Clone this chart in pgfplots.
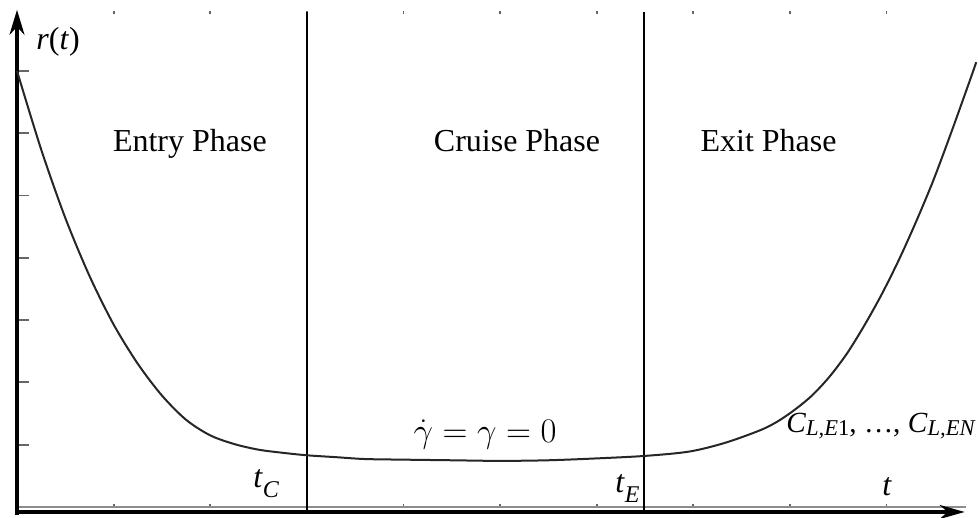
\documentclass[border=0pt]{standalone}
\usepackage{fontspec}
\setmainfont{Liberation Serif}
\usepackage{pgfplots}
\pgfplotsset{compat=1.18}
\usetikzlibrary{arrows.meta}

% Radius profile r(t) over the three flight phases
\pgfplotstableread{
t     r
0.00  7.00
0.25  5.74
0.50  4.64
0.75  3.71
1.00  2.93
1.25  2.30
1.50  1.79
1.75  1.40
2.00  1.15
2.25  1.01
2.50  0.92
2.75  0.87
3.00  0.83
3.30  0.80
3.60  0.77
4.00  0.76
4.50  0.75
5.00  0.74
5.50  0.75
6.00  0.78
6.50  0.82
6.96  0.89
7.33  1.03
7.69  1.23
7.87  1.37
8.05  1.56
8.23  1.79
8.41  2.09
8.59  2.46
8.77  2.91
8.95  3.41
9.13  3.97
9.31  4.59
9.49  5.26
9.68  6.05
9.86  6.83
9.93  7.14
}\rtable

\begin{document}
\begin{tikzpicture}
\useasboundingbox (-8.5pt,-5.5pt) rectangle (481pt,253.5pt);
\begin{axis}[
  anchor=origin, at={(0pt,0pt)},
  x=48.3pt, y=31.15pt,
  xmin=0, xmax=9.93, ymin=0, ymax=7.96,
  clip=false,
  axis line style={draw=none},
  xtick={1,...,9}, ytick=\empty,
  extra y ticks={1,...,7},
  extra y tick style={major tick length=6pt, ytick pos=left},
  xticklabels={}, yticklabels={}, extra y tick labels={},
  tick align=inside,
  major tick length=1.6pt,
  tick style={black!60, line width=0.9pt},
]
% axes
\draw[black!45, line width=1pt] (axis cs:0,0) -- (axis cs:9.82,0);
\draw[black, line width=1.6pt, -{Stealth[length=12.5pt,width=7pt,inset=4pt]}]
  (axis cs:0,-0.08) -- (axis cs:9.81,-0.08);
\draw[black, line width=1.6pt, -{Stealth[length=12.5pt,width=7.5pt,inset=4pt]}]
  (axis cs:0,-0.13) -- (axis cs:0,7.98);
% phase boundaries t_C and t_E
\draw[black, line width=0.8pt] (axis cs:3,-0.11) -- (axis cs:3,7.95);
\draw[black, line width=0.9pt] (axis cs:6.49,-0.11) -- (axis cs:6.49,7.95);

\addplot[black!85, line width=1pt, smooth, tension=0.5] table[x=t, y=r] {\rtable};

% labels
\node[anchor=base west, inner sep=0, font=\fontsize{16}{18}\selectfont]
  at (axis cs:0.197,7.34) {\textit{r}(\textit{t})};
\node[anchor=base, inner sep=0, font=\fontsize{16}{18}\selectfont]
  at (axis cs:1.79,5.70) {Entry Phase};
\node[anchor=base, inner sep=0, font=\fontsize{16}{18}\selectfont]
  at (axis cs:5.176,5.71) {Cruise Phase};
\node[anchor=base, inner sep=0, font=\fontsize{16}{18}\selectfont]
  at (axis cs:7.78,5.70) {Exit Phase};
\node[anchor=base, inner sep=0, font=\fontsize{16.3}{18}\selectfont]
  at (axis cs:4.845,1.03) {$\dot{\gamma} = \gamma = 0$};
\node[anchor=base west, inner sep=0, font=\fontsize{16}{18}\selectfont]
  at (axis cs:2.443,0.32) {\textit{t}\raisebox{-5pt}{\fontsize{12}{14}\selectfont\textit{C}}};
\node[anchor=base west, inner sep=0, font=\fontsize{16}{18}\selectfont]
  at (axis cs:6.19,0.24) {\textit{t}\raisebox{-5pt}{\fontsize{12}{14}\selectfont\textit{E}}};
\node[anchor=base west, inner sep=0, font=\fontsize{16}{18}\selectfont]
  at (axis cs:8.955,0.19) {\textit{t}};
\node[anchor=base west, inner sep=0, font=\fontsize{14.6}{16}\selectfont]
  at (axis cs:7.96,1.19) {\textit{C}\raisebox{-1.5pt}{\fontsize{11.3}{13}\selectfont\textit{L,E}1}, …, \textit{C}\raisebox{-1.5pt}{\fontsize{11.3}{13}\selectfont\textit{L,EN}}};
\end{axis}
\end{tikzpicture}
\end{document}
